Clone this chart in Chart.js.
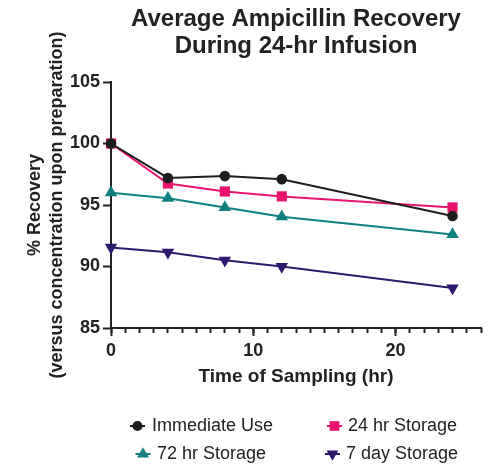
<!DOCTYPE html>
<html>
<head>
<meta charset="utf-8">
<script src="https://cdn.jsdelivr.net/npm/chart.js@4/dist/chart.umd.min.js"></script>
<style>
  html, body { margin: 0; padding: 0; background: #ffffff; }
  #wrap { width: 493px; height: 469px; position: relative; }
</style>
</head>
<body>
<div id="wrap"><canvas id="c" width="493" height="469"></canvas></div>
<script>
// ---- data ----
const hours = [0, 4, 8, 12, 24];
const seriesNames = ["Immediate Use", "24 hr Storage", "72 hr Storage", "7 day Storage"];
const immediateUse = [100, 97.2, 97.35, 97.1, 94.1];
const storage24hr = [100, 96.75, 96.1, 95.7, 94.8];
const storage72hr = [96.0, 95.55, 94.8, 94.05, 92.6];
const storage7day = [91.55, 91.15, 90.5, 90.0, 88.25];
const yTicks = [85, 90, 95, 100, 105];
const xTicks = [0, 10, 20];

const FONT = "'Liberation Sans', Arial, Helvetica, sans-serif";
const INK = "#222222";
const colors = ["#1e1e1e", "#e8146e", "#0e8080", "#2d196e"];
const styles = [
  { pointStyle: "circle", radius: 5.3, rotation: 0 },
  { pointStyle: "rect", radius: 7.2, rotation: 0 },
  { pointStyle: "triangle", radius: 7.2, rotation: 0 },
  { pointStyle: "triangle", radius: 7.2, rotation: 180 }
];
const seriesValues = [immediateUse, storage24hr, storage72hr, storage7day];

const datasets = seriesValues.map((vals, i) => ({
  label: seriesNames[i],
  data: hours.map((h, j) => ({ x: h, y: vals[j] })),
  borderColor: colors[i],
  backgroundColor: colors[i],
  pointBackgroundColor: colors[i],
  pointBorderColor: colors[i],
  borderWidth: 2,
  pointStyle: styles[i].pointStyle,
  pointRadius: styles[i].radius,
  pointRotation: styles[i].rotation,
  pointBorderWidth: 0,
  tension: 0,
  clip: false
}));

// legend drawn in a 2x2 grid like the reference
const gridLegend = {
  id: "gridLegend",
  afterDraw(chart) {
    const ctx = chart.ctx;
    const cells = [
      { mx: 137.5, tx: 152, y: 426 },
      { mx: 334.5, tx: 348, y: 426 },
      { mx: 143, tx: 157, y: 454 },
      { mx: 332.5, tx: 346, y: 454 }
    ];
    ctx.save();
    chart.data.datasets.forEach((ds, i) => {
      const c = cells[i];
      ctx.strokeStyle = ds.borderColor;
      ctx.fillStyle = ds.borderColor;
      ctx.lineWidth = 2;
      ctx.beginPath();
      ctx.moveTo(c.mx - 7.5, c.y);
      ctx.lineTo(c.mx + 7.5, c.y);
      ctx.stroke();
      const r = ds.pointRadius * 0.95;
      Chart.helpers.drawPoint(ctx, { pointStyle: ds.pointStyle, radius: r, rotation: ds.pointRotation, borderWidth: 0 }, c.mx, c.y);
      ctx.fillStyle = INK;
      ctx.font = "18px " + FONT;
      ctx.textAlign = "left";
      ctx.textBaseline = "middle";
      ctx.fillText(ds.label, c.tx, c.y);
    });
    ctx.restore();
  }
};

new Chart(document.getElementById("c"), {
  type: "line",
  data: { datasets },
  plugins: [gridLegend],
  options: {
    responsive: false,
    animation: false,
    devicePixelRatio: 1,
    layout: { padding: { top: 0, right: 12, bottom: 81, left: 0 } },
    plugins: {
      legend: { display: false },
      tooltip: { enabled: false },
      title: {
        display: true,
        fullSize: false,
        text: ["Average Ampicillin Recovery", "During 24-hr Infusion"],
        color: INK,
        font: { family: FONT, size: 24, weight: "bold", lineHeight: 1.125 },
        padding: { top: 6, bottom: 22 }
      }
    },
    scales: {
      x: {
        type: "linear",
        position: "bottom",
        min: 0,
        max: 26,
        afterFit(s) { s.height = 60; },
        afterBuildTicks(s) { s.ticks = xTicks.map(v => ({ value: v })); },
        border: { display: true, color: INK, width: 2 },
        grid: { drawOnChartArea: false, drawTicks: true, tickLength: 8, tickWidth: 2, tickColor: INK },
        ticks: { stepSize: 10, includeBounds: false, padding: 4, color: INK, maxRotation: 0,
                 font: { family: FONT, size: 18, weight: "bold", lineHeight: 1.2 } },
        title: { display: true, text: "Time of Sampling (hr)", color: INK, padding: { top: 0, bottom: 0 },
                 font: { family: FONT, size: 19, weight: "bold", lineHeight: 1.2 } }
      },
      xMinor: {
        type: "linear",
        axis: "x",
        position: { y: 85 },
        min: 0,
        max: 26,
        border: { display: false },
        grid: { drawOnChartArea: false, drawTicks: true, tickLength: 5, tickWidth: 2, tickColor: INK },
        ticks: { stepSize: 1, display: false }
      },
      y: {
        type: "linear",
        position: "left",
        min: 85,
        max: 105,
        afterFit(s) { s.width = 111; },
        afterBuildTicks(s) { s.ticks = yTicks.map(v => ({ value: v })); },
        border: { display: true, color: INK, width: 2 },
        grid: { drawOnChartArea: false, drawTicks: true, tickLength: 8, tickWidth: 2, tickColor: INK },
        ticks: { stepSize: 5, padding: 3, color: INK,
                 font: { family: FONT, size: 18, weight: "bold", lineHeight: 1.2 } },
        title: { display: true, text: ["% Recovery", "(versus concentration upon preparation)"], color: INK,
                 padding: { top: 24, bottom: 0 },
                 font: { family: FONT, size: 18, weight: "bold", lineHeight: 1.22 } }
      }
    }
  }
});
</script>
</body>
</html>
